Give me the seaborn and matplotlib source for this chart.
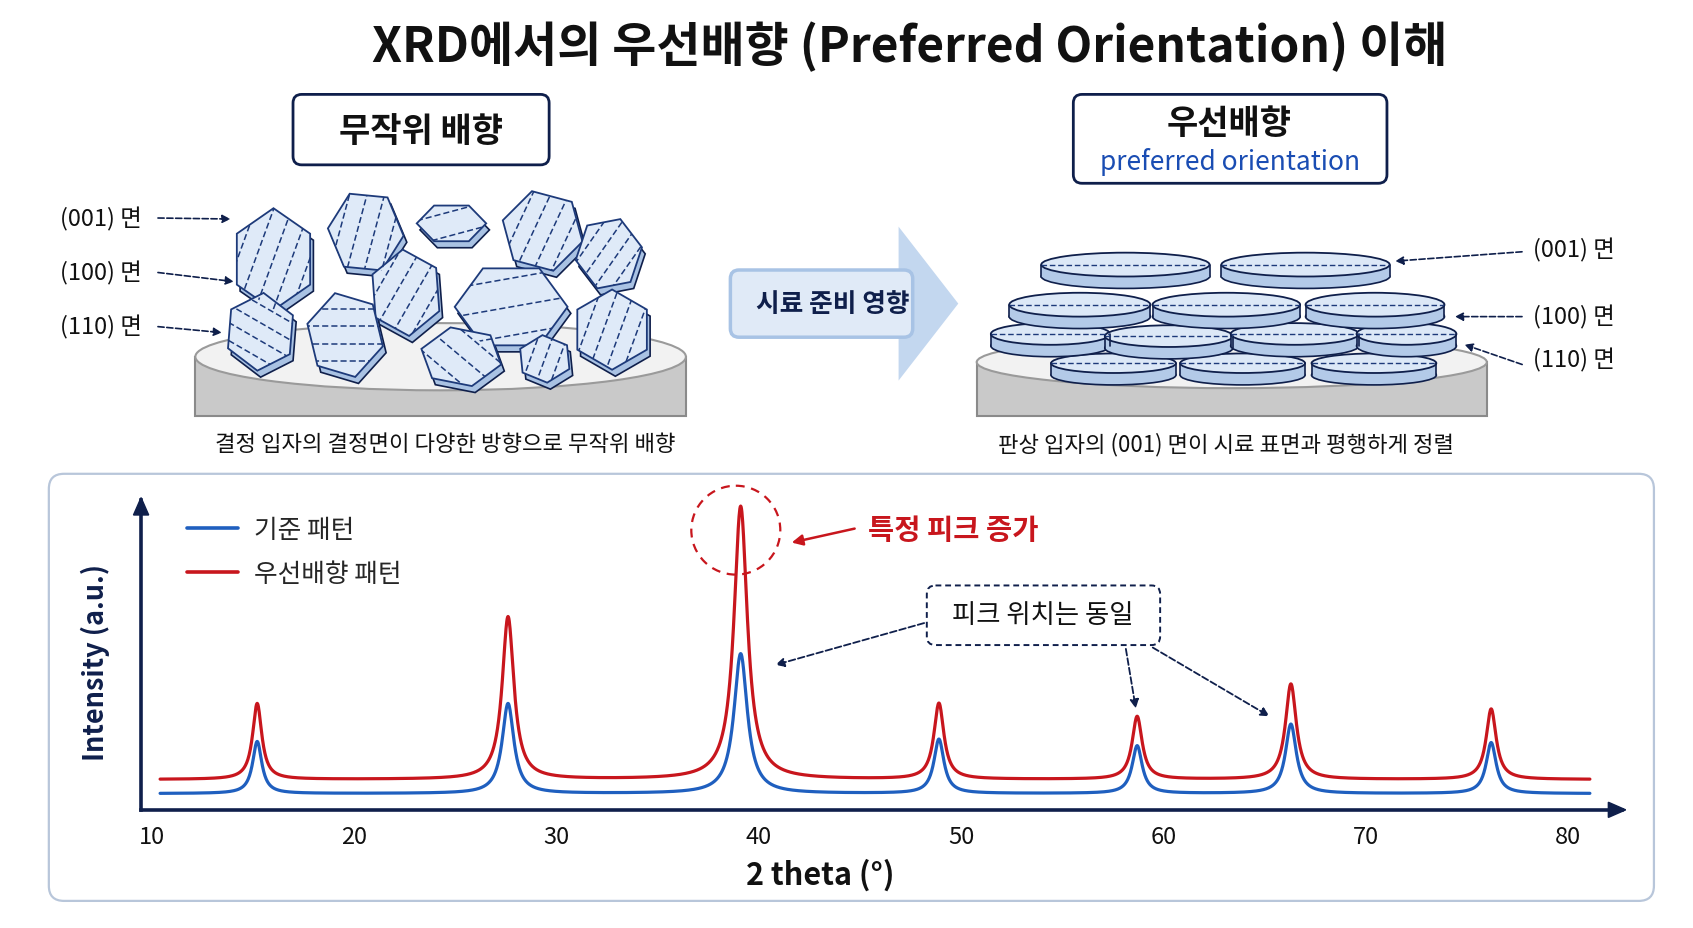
import numpy as np
import pandas as pd
import matplotlib
matplotlib.use("Agg")
import matplotlib.pyplot as plt
import seaborn as sns
from matplotlib.patches import Polygon, Ellipse, Rectangle, FancyBboxPatch
from matplotlib.lines import Line2D

# XRD pattern data (peak position, heights above background, widths)
peak_pos = [15.2, 27.6, 39.1, 48.9, 58.7, 66.3, 76.2]
base_height = [48, 83, 129, 50, 44, 64, 47]
pref_height = [70, 150, 252, 70, 58, 88, 65]
peak_fwhm = [0.55, 0.7, 0.8, 0.6, 0.6, 0.65, 0.6]
base_level = 15
pref_level = 28
theta_start, theta_end = 10.4, 81.1
xticks = [10, 20, 30, 40, 50, 60, 70, 80]
series_names = ["기준 패턴", "우선배향 패턴"]

BLUE = "#1f5fbf"
RED = "#c8161d"
NAVY = "#0f1f4b"
W, H = 1560, 857


def pattern(x, level, heights):
    y = np.full_like(x, float(level))
    for p, h, f in zip(peak_pos, heights, peak_fwhm):
        y += h / (1 + ((x - p) / (f / 2)) ** 2)
    return y


two_theta = np.arange(theta_start, theta_end, 0.02)
df = pd.concat([
    pd.DataFrame({"2theta": two_theta, "intensity": pattern(two_theta, base_level, base_height),
                  "pattern": series_names[0]}),
    pd.DataFrame({"2theta": two_theta, "intensity": pattern(two_theta, pref_level, pref_height),
                  "pattern": series_names[1]}),
], ignore_index=True)

sns.set_theme(style="white")
plt.rcParams["font.family"] = ["Noto Sans CJK KR", "DejaVu Sans"]

fig = plt.figure(figsize=(16.93, 9.29), dpi=100)
fig.patch.set_facecolor("white")

# overlay for the illustration parts, in pixel-like coordinates
ov = fig.add_axes([0, 0, 1, 1], zorder=0)
ov.set_xlim(0, W)
ov.set_ylim(H, 0)
ov.axis("off")

ov.text(838, 43, "XRD에서의 우선배향 (Preferred Orientation) 이해", ha="center", va="center",
        fontsize=34.5, fontweight="bold", color="#111111")

# title boxes
ov.add_patch(FancyBboxPatch((270, 88), 236, 65, boxstyle="round,pad=0,rounding_size=8",
                            fc="white", ec=NAVY, lw=2))
ov.text(388, 121, "무작위 배향", ha="center", va="center", fontsize=24.5, fontweight="bold", color="#111111")
ov.add_patch(FancyBboxPatch((989, 88), 289, 82, boxstyle="round,pad=0,rounding_size=8",
                            fc="white", ec=NAVY, lw=2))
ov.text(1133, 114, "우선배향", ha="center", va="center", fontsize=24.5, fontweight="bold", color="#111111")
ov.text(1133, 149, "preferred orientation", ha="center", va="center", fontsize=19, color="#1a4db3")

# left sample holder
ov.add_patch(Rectangle((180, 330), 452, 55, fc="#c9c9c9", ec="#8a8a8a", lw=1.5))
ov.add_patch(Ellipse((406, 330), 452, 62, fc="#f2f2f2", ec="#9a9a9a", lw=1.5))

# random crystals: cx, cy, rx, ry, rotation, line angle, n lines
crystals = [
    (252, 240, 39, 47, 15, 70, 5),
    (337, 215, 35, 39, -10, 75, 4),
    (416, 207, 32, 19, -15, 15, 2),
    (500, 214, 38, 38, 0, 65, 4),
    (561, 235, 31, 34, 35, 55, 4),
    (374, 271, 34, 40, 10, 60, 4),
    (471, 284, 52, 41, -15, 10, 3),
    (240, 307, 33, 36, 20, -30, 4),
    (318, 310, 36, 40, 0, 0, 4),
    (425, 330, 38, 28, 0, -40, 3),
    (502, 332, 25, 22, 10, 70, 3),
    (564, 305, 37, 37, 15, 70, 4),
]
for cx, cy, rx, ry, rot, lang, nl in crystals:
    a = np.deg2rad(np.array([15, 75, 135, 195, 255, 315]) + rot)
    pts = np.column_stack([cx + rx * np.cos(a), cy + ry * np.sin(a)])
    ov.add_patch(Polygon(pts + [3, 6], closed=True, fc="#a9c2e3", ec=NAVY, lw=1.2, zorder=3))
    poly = Polygon(pts, closed=True, fc="#dfeaf8", ec="#1d3a7a", lw=1.3, zorder=4)
    ov.add_patch(poly)
    t = np.deg2rad(lang)
    d = np.array([np.cos(t), -np.sin(t)])
    nrm = np.array([-d[1], d[0]])
    r = max(rx, ry)
    for k in range(nl):
        off = -r + 2 * r * (k + 1) / (nl + 1)
        c = np.array([cx, cy]) + nrm * off
        p0, p1 = c - d * 2 * r, c + d * 2 * r
        ln, = ov.plot([p0[0], p1[0]], [p0[1], p1[1]], color="#1d3a7a", lw=1.1,
                      ls=(0, (4, 2)), zorder=5)
        ln.set_clip_path(poly)

for ytxt, tip in [(202, (215, 203)), (252, (218, 261)), (302, (207, 308))]:
    ov.annotate("", xy=tip, xytext=(143, ytxt),
                arrowprops=dict(arrowstyle="-|>", color=NAVY, lw=1.2, ls="--", mutation_scale=12))
for ytxt, lab in [(202, "(001) 면"), (252, "(100) 면"), (302, "(110) 면")]:
    ov.text(55, ytxt, lab, ha="left", va="center", fontsize=17, color="#111111")
ov.text(410, 410, "결정 입자의 결정면이 다양한 방향으로 무작위 배향", ha="center", va="center",
        fontsize=16, color="#111111")

# middle arrow
ov.add_patch(Polygon([(828, 210), (883, 281), (828, 352)], closed=True, fc="#c3d7ef", ec="none"))
ov.add_patch(FancyBboxPatch((673, 250), 168, 62, boxstyle="round,pad=0,rounding_size=8",
                            fc="#e0eaf7", ec="#a8c3e5", lw=2.5))
ov.text(767, 281, "시료 준비 영향", ha="center", va="center", fontsize=18.5, fontweight="bold", color=NAVY)

# right sample holder with stacked plates
ov.add_patch(Rectangle((900, 335), 470, 50, fc="#c9c9c9", ec="#8a8a8a", lw=1.5))
ov.add_patch(Ellipse((1135, 335), 470, 48, fc="#f2f2f2", ec="#9a9a9a", lw=1.5))

discs = [
    # bottom row first, top row last
    (1026, 336, 115, 18), (1145, 336, 115, 18), (1266, 336, 115, 18),
    (968, 309, 110, 20), (1077, 311, 118, 20), (1193, 309, 118, 20), (1296, 309, 92, 20),
    (995, 282, 130, 22), (1130, 282, 136, 22), (1267, 282, 128, 22),
    (1037, 245, 155, 22), (1203, 245, 155, 22),
]
for cx, cy, w, h in discs:
    th = 11
    ov.add_patch(Ellipse((cx, cy + th), w, h, fc="#b3cae8", ec=NAVY, lw=1.2))
    ov.add_patch(Rectangle((cx - w / 2, cy), w, th, fc="#b3cae8", ec="none"))
    ov.plot([cx - w / 2, cx - w / 2], [cy, cy + th], color=NAVY, lw=1.2)
    ov.plot([cx + w / 2, cx + w / 2], [cy, cy + th], color=NAVY, lw=1.2)
    top = Ellipse((cx, cy), w, h, fc="#dce8f7", ec=NAVY, lw=1.3)
    ov.add_patch(top)
    ln, = ov.plot([cx - w / 2, cx + w / 2], [cy, cy], color="#1d3a7a", lw=1.0, ls=(0, (4, 2)))
    ln.set_clip_path(top)

for tail, tip in [((1405, 233), (1283, 242)), ((1405, 293), (1338, 293)), ((1405, 338), (1347, 318))]:
    ov.annotate("", xy=tip, xytext=tail,
                arrowprops=dict(arrowstyle="-|>", color=NAVY, lw=1.2, ls="--", mutation_scale=12))
for ytxt, lab in [(231, "(001) 면"), (293, "(100) 면"), (332, "(110) 면")]:
    ov.text(1413, ytxt, lab, ha="left", va="center", fontsize=17, color="#111111")
ov.text(1130, 410, "판상 입자의 (001) 면이 시료 표면과 평행하게 정렬", ha="center", va="center",
        fontsize=16, color="#111111")

# chart panel
ov.add_patch(FancyBboxPatch((45, 438), 1479, 394, boxstyle="round,pad=0,rounding_size=14",
                            fc="white", ec="#b8c6da", lw=1.6, zorder=1))

# XRD chart
ax = fig.add_axes([130 / W, 1 - 748 / H, (1495 - 130) / W, (748 - 462) / H], zorder=2)
ax.patch.set_alpha(0)
sns.lineplot(data=df, x="2theta", y="intensity", hue="pattern", palette=[BLUE, RED],
             lw=2.3, ax=ax, legend=False, sort=False)
ax.set_xlim(9.46, 82.69)
ax.set_ylim(0, 286)
ax.set_xticks(xticks)
ax.set_xticklabels([str(t) for t in xticks], fontsize=17, color="#111111")
ax.set_yticks([])
ax.tick_params(axis="x", direction="out", length=6, width=1.5, color=NAVY, pad=5)
for s in ["top", "right"]:
    ax.spines[s].set_visible(False)
for s in ["left", "bottom"]:
    ax.spines[s].set_color(NAVY)
    ax.spines[s].set_linewidth(2.6)
ax.set_xlabel("2 theta (°)", fontsize=22, fontweight="bold", color="#111111")
ax.xaxis.set_label_coords(0.4586, -0.155)
ax.set_ylabel("Intensity (a.u.)", fontsize=19.5, fontweight="bold", color=NAVY)
ax.yaxis.set_label_coords(-0.021, 0.48)

# axis arrowheads
ov.add_patch(Polygon([(123, 476), (130, 460), (137, 476)], closed=True, fc=NAVY, ec=NAVY, zorder=3))
ov.add_patch(Polygon([(1482, 741), (1498, 748), (1482, 755)], closed=True, fc=NAVY, ec=NAVY, zorder=3))

handles = [Line2D([], [], color=BLUE, lw=2.6), Line2D([], [], color=RED, lw=2.6)]
ax.legend(handles, series_names, loc="upper left", bbox_to_anchor=(0.031, 0.945), frameon=False,
          fontsize=18.5, handlelength=2.0, handletextpad=0.6, labelspacing=0.72,
          borderpad=0, borderaxespad=0)

# annotations on the chart
ov.add_patch(Ellipse((678, 490), 82, 82, fc="none", ec=RED, lw=1.6, ls=(0, (4, 3)), zorder=3))
ov.annotate("", xy=(727, 502), xytext=(790, 488),
            arrowprops=dict(arrowstyle="-|>", color=RED, lw=1.8, mutation_scale=16), zorder=3)
ov.text(800, 490, "특정 피크 증가", ha="left", va="center", fontsize=20.5, fontweight="bold", color=RED, zorder=3)

ov.add_patch(FancyBboxPatch((854, 541), 215, 55, boxstyle="round,pad=0,rounding_size=8",
                            fc="white", ec=NAVY, lw=1.4, ls=(0, (3, 2)), zorder=3))
ov.text(961, 568, "피크 위치는 동일", ha="center", va="center", fontsize=19, fontweight="medium",
        color="#111111", zorder=4)
for tail, tip in [((854, 575), (712, 615)), ((1037, 597), (1047, 657)), ((1060, 597), (1172, 663))]:
    ov.annotate("", xy=tip, xytext=tail,
                arrowprops=dict(arrowstyle="-|>", color=NAVY, lw=1.3, ls="--", mutation_scale=13), zorder=3)

fig.savefig("out.png", dpi=100, facecolor="white")
